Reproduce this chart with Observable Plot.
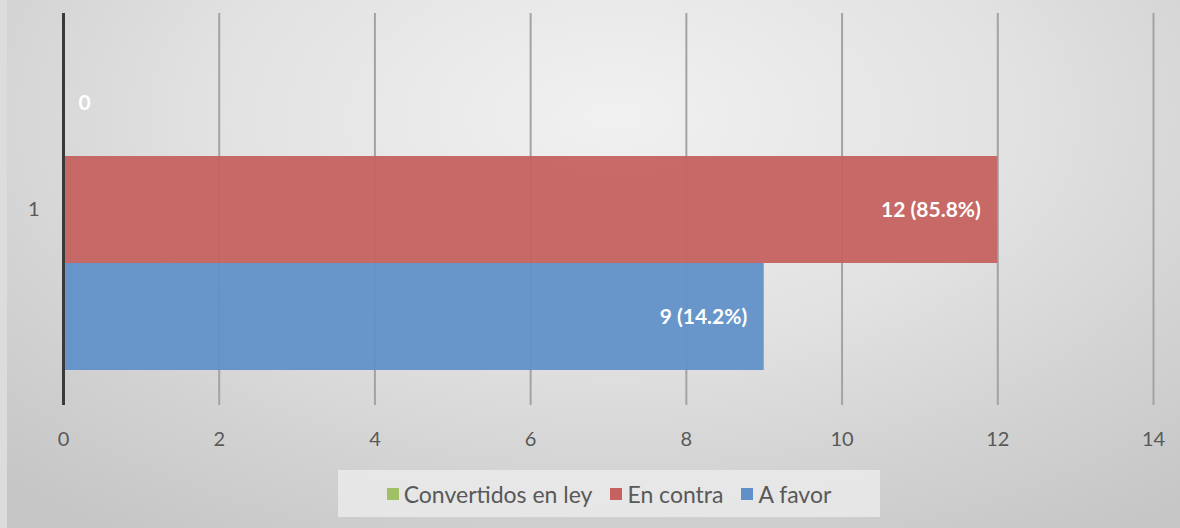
<!DOCTYPE html>
<html>
<head>
<meta charset="utf-8">
<script src="https://cdn.jsdelivr.net/npm/d3@7"></script>
<script src="https://cdn.jsdelivr.net/npm/@observablehq/plot@0.6"></script>
<style>
  html, body { margin: 0; padding: 0; }
  #wrap {
    position: relative; width: 1180px; height: 528px; overflow: hidden;
    background: radial-gradient(ellipse 75% 95% at 52% 22%, #f1f1f1 0%, #e2e2e2 45%, #d2d2d2 75%, #c6c6c6 100%);
    font-family: Lato, "Open Sans", sans-serif;
  }
  #strip { position: absolute; left: 0; top: 0; width: 7px; height: 528px; background: #dcdcdc; }
  #chart { position: absolute; left: 0; top: 0; }
  #legend {
    position: absolute; left: 338px; top: 470px; width: 542px; height: 47px;
    background: rgba(238,238,238,0.75);
    display: flex; align-items: center; justify-content: center; gap: 18px;
    font-size: 23px; color: #595959;
  }
  .item { display: flex; align-items: center; gap: 5px; }
  .sw { width: 12px; height: 12px; display: inline-block; }
</style>
</head>
<body>
<div id="wrap"><div id="strip"></div><div id="chart"></div><div id="legend"></div></div>
<script>
const categories = ["1"];
const series = ["Convertidos en ley", "En contra", "A favor"];
const values = [0, 12, 9];
const labels = ["0", "12 (85.8%)", "9 (14.2%)"];
const colors = ["#9fc064", "#c5625f", "#6190c8"];
const xTicks = [0, 2, 4, 6, 8, 10, 12, 14];

const data = series.map((s, i) => ({category: categories[0], series: s, value: values[i], label: labels[i]}));

const chart = Plot.plot({
  width: 1180, height: 460,
  marginLeft: 63, marginRight: 27, marginTop: 13, marginBottom: 55,
  style: {background: "transparent", fontFamily: "Lato, 'Open Sans', sans-serif", color: "#595959"},
  x: {domain: [0, 14], ticks: xTicks, label: null},
  y: {domain: series, axis: null, paddingInner: 0, paddingOuter: 0.327},
  fy: {domain: categories, label: null, padding: 0},
  color: {domain: series, range: colors},
  marks: [
    Plot.gridX(xTicks, {stroke: "#a3a3a3", strokeWidth: 2, strokeOpacity: 1}),
    Plot.barX(data, {x: "value", y: "series", fy: "category", fill: "series", fillOpacity: 0.95}),
    Plot.ruleX([0], {stroke: "#3a3a3a", strokeWidth: 3}),
    Plot.text(data.filter(d => d.value > 0), {x: "value", y: "series", fy: "category", text: "label",
      textAnchor: "end", dx: -17, fill: "white", fontWeight: "bold", fontSize: 21}),
    Plot.text(data.filter(d => d.value === 0), {x: "value", y: "series", fy: "category", text: "label",
      textAnchor: "start", dx: 15, fill: "white", fontWeight: "bold", fontSize: 21}),
    Plot.axisX({ticks: xTicks, tickSize: 0, tickPadding: 26, fontSize: 20, anchor: "bottom", label: null}),
    Plot.axisFy({tickSize: 0, tickPadding: 24, fontSize: 20, anchor: "left", label: null})
  ]
});
document.getElementById("chart").appendChild(chart);

const legend = document.getElementById("legend");
series.forEach((s, i) => {
  const it = document.createElement("div");
  it.className = "item";
  it.innerHTML = `<span class="sw" style="background:${colors[i]}"></span><span>${s}</span>`;
  legend.appendChild(it);
});
</script>
</body>
</html>
